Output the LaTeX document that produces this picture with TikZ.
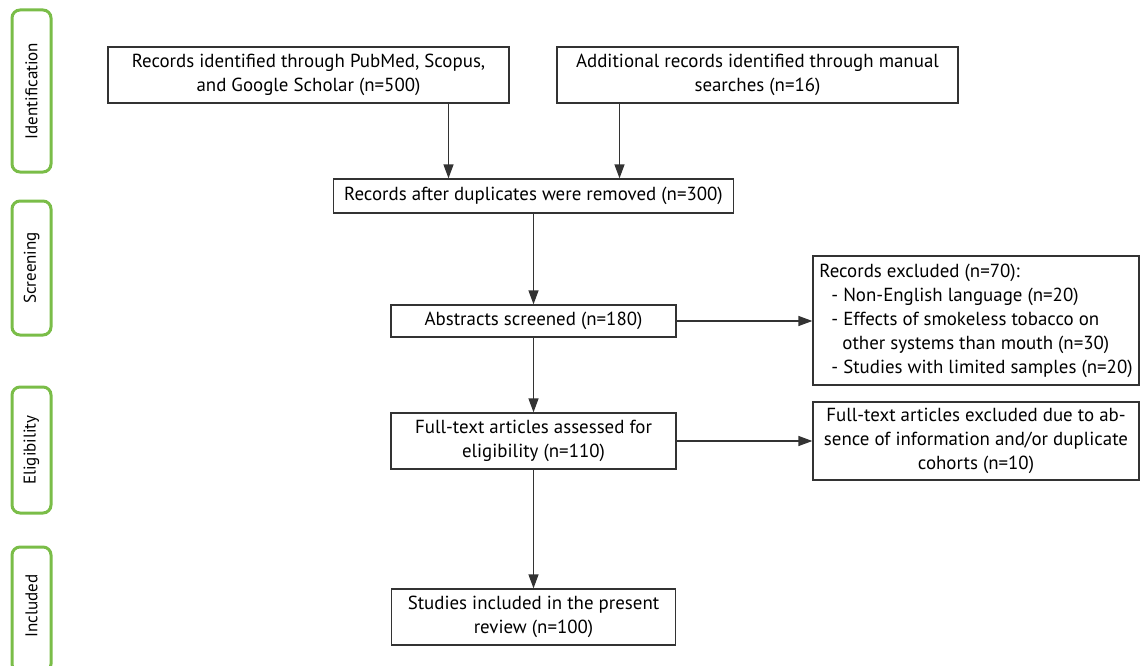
\documentclass[tikz,border=0pt]{standalone}
\usepackage{fontspec}
\setmainfont{PT Sans}
\usetikzlibrary{arrows.meta}
\newlength{\du}
\setlength{\du}{1pt}
\definecolor{stagegreen}{rgb}{0.478, 0.741, 0.282}
\definecolor{boxline}{rgb}{0.200, 0.200, 0.200}
\tikzset{
  flowbox/.style={draw=boxline, line width=1.3\du, inner sep=0pt, align=center,
    font=\fontsize{18.9\du}{24\du}\selectfont},
  stageframe/.style={draw=stagegreen, line width=3\du, rounded corners=8\du},
  stagelabel/.style={rotate=90, inner sep=0pt, font=\fontsize{17\du}{20\du}\selectfont},
  flowarrow/.style={draw=boxline, line width=1.3\du, -{Triangle[length=14pt,width=10pt]}}
}
\begin{document}
\begin{tikzpicture}
\pgftransformxscale{1.000000}
\pgftransformyscale{-1.000000}
\useasboundingbox (0\du,0\du) rectangle (1140\du,666\du);
% stages
\draw[stageframe] (12\du,10\du) rectangle (51\du,172\du);
\node[stagelabel] (ident) at (31.5\du,91\du){Identification};
\draw[stageframe] (12\du,201\du) rectangle (51\du,335\du);
\node[stagelabel] (screen) at (31.5\du,268\du){Screening};
\draw[stageframe] (12\du,387\du) rectangle (51\du,513\du);
\node[stagelabel] (elig) at (31.5\du,450\du){Eligibility};
\draw[stageframe] (12\du,547\du) rectangle (51\du,672\du);
\node[stagelabel] (incl) at (31.5\du,606\du){Included};
% boxes
\node[flowbox, minimum width=401\du, minimum height=56\du] (pubmed) at (308.5\du,75\du)
  {Records identified through PubMed, Scopus,\\and Google Scholar (n=500)};
\node[flowbox, minimum width=401\du, minimum height=56\du] (manual) at (757.5\du,75\du)
  {Additional records identified through manual\\searches (n=16)};
\node[flowbox, minimum width=400\du, minimum height=34\du] (dup) at (533.5\du,196\du)
  {Records after duplicates were removed (n=300)};
\node[flowbox, minimum width=285\du, minimum height=32\du] (abstr) at (533.5\du,321\du)
  {Abstracts screened (n=180)};
\node[flowbox, minimum width=285\du, minimum height=56\du] (fulltext) at (533.5\du,441\du)
  {Full-text articles assessed for\\eligibility (n=110)};
\node[flowbox, minimum width=284\du, minimum height=56\du] (studies) at (533.5\du,617\du)
  {Studies included in the present\\review (n=100)};
\node[flowbox, minimum width=326\du, minimum height=129\du, align=left]
  (excl) at (976\du,320.5\du)
  {Records excluded (n=70):\\
  \hspace*{12\du}- Non-English language (n=20)\\
  \hspace*{12\du}- Effects of smokeless tobacco on\\
  \hspace*{23\du}other systems than mouth (n=30)\\
  \hspace*{12\du}- Studies with limited samples (n=20)};
\node[flowbox, minimum width=326\du, minimum height=78\du] (exclfull) at (976\du,441\du)
  {Full-text articles excluded due to ab-\\sence of information and/or duplicate\\cohorts (n=10)};
% arrows
\coordinate (pubout) at (448.5\du,103\du);
\coordinate (manout) at (619.5\du,103\du);
\draw[flowarrow] (pubout) -- (pubout |- dup.north);
\draw[flowarrow] (manout) -- (manout |- dup.north);
\draw[flowarrow] (dup.south) -- (abstr.north);
\draw[flowarrow] (abstr.south) -- (fulltext.north);
\draw[flowarrow] (fulltext.south) -- (studies.north);
\draw[flowarrow] (abstr.east) -- (abstr.east -| excl.west);
\draw[flowarrow] (fulltext.east) -- (exclfull.west);
\end{tikzpicture}
\end{document}
